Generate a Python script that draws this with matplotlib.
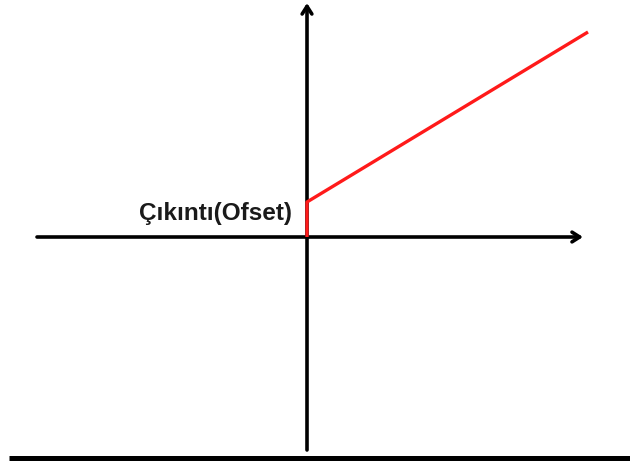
import matplotlib
matplotlib.use("Agg")
import matplotlib.pyplot as plt

# data (units relative to origin, y up)
line_x = [0, 0, 281]
line_y = [0, 35, 205]
label = "Çıkıntı(Ofset)"
x_axis = [-270, 276]
y_axis = [-213, 234]

fig = plt.figure(figsize=(6.3, 4.61), dpi=100)
ax = fig.add_axes([0, 0, 1, 1])
ox, oy = 307, 224  # origin in axes units (y from bottom)
ax.set_xlim(-ox, 630 - ox)
ax.set_ylim(-oy, 461 - oy)
ax.axis("off")

# axes with arrows
style = "->,head_length=0.55,head_width=0.35"
ax.annotate("", xy=(x_axis[1], 0), xytext=(x_axis[0], 0),
            arrowprops=dict(arrowstyle=style, lw=2.6, color="black",
                            shrinkA=0, shrinkB=0))
ax.annotate("", xy=(0, y_axis[1]), xytext=(0, y_axis[0]),
            arrowprops=dict(arrowstyle=style, lw=2.6, color="black",
                            shrinkA=0, shrinkB=0))

ax.plot(line_x, line_y, color="#ff1a1a", lw=2.4, solid_capstyle="butt", zorder=3)

ax.text(-15, 24, label, ha="right", va="center", fontsize=17.5, fontweight="bold",
        family=["Liberation Sans", "DejaVu Sans"], color="#1a1a1a")

# bottom rule
ax.plot([9 - ox, 630 - ox], [-(458 - 237), -(458 - 237)], color="black", lw=3.6, solid_capstyle="butt")

fig.savefig("out.png", dpi=100)
